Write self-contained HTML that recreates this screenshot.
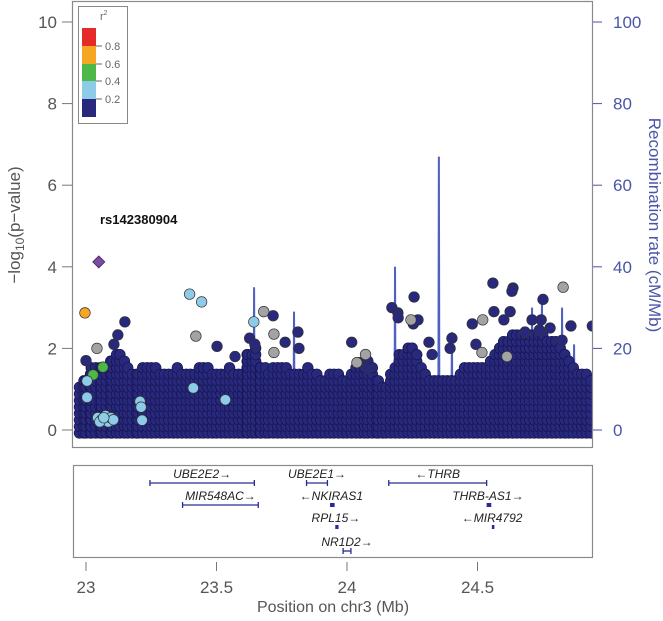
<!DOCTYPE html>
<html><head><meta charset="utf-8">
<style>
body{margin:0;background:#fff;}
svg{display:block;font-family:"Liberation Sans",Arial,sans-serif;}
</style></head>
<body>
<svg id="chart" width="663" height="621" viewBox="0 0 663 621">
  <defs><clipPath id="pclip"><rect x="73" y="2" width="519" height="445"/></clipPath></defs>
  <rect x="0" y="0" width="663" height="621" fill="#fff"/>
  <g clip-path="url(#pclip)">
    <g id="recomb"></g>
    <g id="mass"></g>
    <g id="points"></g>
  </g>
  <rect x="72.5" y="1.5" width="520" height="446" fill="none" stroke="#8a8a8a" stroke-width="1.2"/>
  <g id="leftaxis"></g>
  <g id="rightaxis"></g>
  <text transform="translate(20,225) rotate(-90)" text-anchor="middle" font-size="17" fill="#555">−log<tspan font-size="12" dy="4">10</tspan><tspan dy="-4">(p−value)</tspan></text>
  <text transform="translate(649,225) rotate(90)" text-anchor="middle" font-size="17" fill="#4a55a8">Recombination rate (cM/Mb)</text>
  <text x="100" y="224" font-size="13" font-weight="bold" fill="#111">rs142380904</text>
  <g>
    <rect x="78.5" y="6.5" width="49" height="117" fill="#fff" stroke="#888"/>
    <text x="100" y="20" font-size="11" fill="#666">r<tspan font-size="7" dy="-5">2</tspan></text>
    <rect x="82" y="28" width="14" height="18" fill="#e52a2a"/>
    <rect x="82" y="46" width="14" height="18" fill="#f5a623"/>
    <rect x="82" y="64" width="14" height="17" fill="#4cb848"/>
    <rect x="82" y="81" width="14" height="18" fill="#8ecbe8"/>
    <rect x="82" y="99" width="14" height="18" fill="#28287c"/>
    <g stroke="#666" stroke-width="1">
      <line x1="96" y1="46" x2="102" y2="46"/><line x1="96" y1="64" x2="102" y2="64"/>
      <line x1="96" y1="81" x2="102" y2="81"/><line x1="96" y1="99" x2="102" y2="99"/>
    </g>
    <g font-size="11" fill="#666">
      <text x="105" y="50">0.8</text>
      <text x="105" y="68">0.6</text>
      <text x="105" y="85">0.4</text>
      <text x="105" y="103">0.2</text>
    </g>
  </g>
  <rect x="73.5" y="465.5" width="519" height="92" fill="none" stroke="#8a8a8a" stroke-width="1.2"/>
  <g id="genes"></g>
  <g id="xaxis"></g>
  <text x="333" y="612" text-anchor="middle" font-size="16" fill="#555">Position on chr3 (Mb)</text>
</svg>
<script>
// ---- data ----
const xTicks = [23, 23.5, 24, 24.5];
const yTicks = [0, 2, 4, 6, 8, 10];
const rTicks = [0, 20, 40, 60, 80, 100];
// dense SNP mass envelope: position (Mb) and top -log10(p)
const massPos = [22.975,23.0,23.02,23.06,23.1,23.13,23.16,23.2,23.25,23.3,23.35,23.4,23.45,23.5,23.55,23.6,23.62,23.65,23.67,23.7,23.75,23.8,23.85,23.9,23.95,24.0,24.05,24.08,24.12,24.15,24.2,24.25,24.3,24.35,24.4,24.45,24.5,24.55,24.6,24.65,24.7,24.75,24.8,24.85,24.9,24.95];
const massTop = [1.2,1.4,1.6,1.6,1.9,2.0,1.6,1.55,1.7,1.5,1.6,1.5,1.7,1.5,1.6,1.55,2.0,2.1,1.7,1.55,1.7,1.5,1.6,1.4,1.5,1.4,1.7,1.9,1.3,1.2,2.0,2.2,1.5,1.3,1.3,1.6,1.6,1.8,2.3,2.5,2.5,2.4,2.3,1.8,1.5,1.4];
// individual SNPs: position (Mb), -log10(p), r2 class
const snpPos = [23.049,22.996,23.397,23.443,23.643,23.042,23.421,23.681,23.72,23.72,23.065,23.027,23.004,23.004,23.411,23.534,23.207,23.211,23.215,23.045,23.06,23.075,23.085,23.095,23.105,23.053,23.068,
 23.149,23.122,23.107,23.0,23.502,23.717,23.812,23.763,23.816,23.627,23.571,23.647,
 24.559,24.636,24.632,24.257,24.751,24.563,24.172,24.195,24.254,24.196,24.272,24.625,24.709,24.744,24.778,24.737,24.858,24.48,24.601,24.682,24.402,24.395,24.018,24.048,24.079,24.326,24.314,24.494,24.824,24.94,
 24.828,24.245,24.517,24.613,24.038,24.071,24.52];
const snpVal = [4.12,2.87,3.33,3.14,2.65,2.0,2.3,2.9,2.35,1.9,1.54,1.35,1.2,0.8,1.03,0.74,0.7,0.56,0.24,0.3,0.25,0.35,0.2,0.3,0.25,0.2,0.3,
 2.65,2.33,2.1,1.7,2.05,2.8,2.4,2.15,2.0,2.25,1.8,2.1,
 3.6,3.48,3.4,3.26,3.2,2.9,3.0,2.87,2.6,2.75,2.7,2.9,2.7,2.7,2.5,2.45,2.55,2.6,2.7,2.4,2.25,2.0,2.15,1.65,1.5,1.85,2.15,2.1,2.2,2.55,
 3.5,2.7,1.9,1.8,1.65,1.85,2.7];
const snpCls = ['lead','orange','lb','lb','lb','gray','gray','gray','gray','gray','green','green','lb','lb','lb','lb','lb','lb','lb','lb','lb','lb','lb','lb','lb','lb','lb',
 'n','n','n','n','n','n','n','n','n','n','n','n',
 'n','n','n','n','n','n','n','n','n','n','n','n','n','n','n','n','n','n','n','n','n','n','n','n','n','n','n','n','n','n',
 'gray','gray','gray','gray','gray','gray','gray'];
// recombination spikes (Mb, cM/Mb)
const recPos = [23.644,23.797,24.184,24.352,24.402,24.709,24.747,24.824,24.870];
const recVal = [35,29,40,67,24,30,33,30,21];
// genes
const geneName = ['UBE2E2','MIR548AC','UBE2E1','NKIRAS1','RPL15','NR1D2','THRB','THRB-AS1','MIR4792'];
const geneStart = [23.245,23.37,23.845,23.935,23.955,23.985,24.16,24.535,24.555];
const geneEnd = [23.645,23.66,23.925,23.945,23.96,24.015,24.535,24.545,24.557];
const geneRow = [0,1,0,1,2,3,0,1,2];
const geneDir = [1,1,1,-1,1,1,-1,1,-1];

// ---- scales ----
const X = mb => 86 + (mb - 23) * 261;
const Y = v => 430 - 40.8 * v;
const R = c => 430 - 4.08 * c;
const NS = 'http://www.w3.org/2000/svg';
function mk(tag, attrs, parent){const e=document.createElementNS(NS,tag);for(const k in attrs)e.setAttribute(k,attrs[k]);parent.appendChild(e);return e;}
const colors = {n:'#28287c',lb:'#8ecbe8',gray:'#a3a3a3',green:'#4cb848',orange:'#f5a623'};

// recombination line
const rg = document.getElementById('recomb');
let d = 'M' + X(22.96) + ' ' + R(1.5);
recPos.forEach((p,i)=>{ d += ' L'+X(p-0.002)+' '+R(1)+' L'+X(p)+' '+R(recVal[i])+' L'+X(p+0.002)+' '+R(1); });
d += ' L' + X(24.95) + ' ' + R(1);
const rl = mk('path',{d:d,fill:'none',stroke:'#4f5fc4','stroke-width':2},rg);



// dense mass
const mg = document.getElementById('mass');
for(let i=0;i<massPos.length-1;i++){
  const x0=X(massPos[i]), x1=X(massPos[i+1]);
  for(let x=x0;x<x1;x+=4.5){
    const t=(x-x0)/(x1-x0);
    const top=massTop[i]+(massTop[i+1]-massTop[i])*t;
    for(let v=0; v<=top; v+=0.16){
      const c=mk('circle',{cx:x,cy:Y(v)+3,r:5.3,fill:'#28287c',stroke:'#161650','stroke-width':0.7},mg);
      
      
    }
  }
}
// individual points
const pg = document.getElementById('points');
snpPos.forEach((p,i)=>{
  const cx=X(p), cy=Y(snpVal[i]);
  if(snpCls[i]==='lead'){
    const e=mk('polygon',{points:`${cx},${cy-6} ${cx+6},${cy} ${cx},${cy+6} ${cx-6},${cy}`,fill:'#7a4ca2',stroke:'#3a2060','stroke-width':0.8},pg);
    
    
  } else {
    const e=mk('circle',{cx:cx,cy:cy,r:5.3,fill:colors[snpCls[i]],stroke:'#333','stroke-width':0.7},pg);
    
    
  }
});

// axes
const la=document.getElementById('leftaxis');
yTicks.forEach(v=>{
  const l=mk('line',{x1:62,x2:72,y1:Y(v),y2:Y(v),stroke:'#777'},la);
  
  
  const t=mk('text',{x:57,y:Y(v)+6,'text-anchor':'end','font-size':17,fill:'#555'},la);
  t.textContent=v;
  
  
});
const ra=document.getElementById('rightaxis');
rTicks.forEach(v=>{
  const l=mk('line',{x1:593,x2:602,y1:R(v),y2:R(v),stroke:'#4a55a8'},ra);
  
  
  const t=mk('text',{x:613,y:R(v)+6,'font-size':17,fill:'#4a55a8'},ra);
  t.textContent=v;
  
  
});
const xa=document.getElementById('xaxis');
xTicks.forEach(v=>{
  const l=mk('line',{x1:X(v),x2:X(v),y1:562,y2:571,stroke:'#777'},xa);
  
  
  const t=mk('text',{x:X(v),y:593,'text-anchor':'middle','font-size':17,fill:'#555'},xa);
  t.textContent=v;
  
  
});

// genes
const gg=document.getElementById('genes');
const rowY=[483,505,527,551];
geneName.forEach((n,i)=>{
  const y=rowY[geneRow[i]], x0=X(geneStart[i]), x1=X(geneEnd[i]);
  const narrow = (x1-x0<6);
  const ln=mk('line',{x1:x0,x2:narrow?x0+(x1-x0)+2:x1,y1:y,y2:y,stroke:'#2a2a96','stroke-width':narrow?4:1.3},gg);
  
  
  if(!narrow){
    [x0,x1].forEach(xx=>{
      const tk=mk('line',{x1:xx,x2:xx,y1:y-3,y2:y+3,stroke:'#2a2a96','stroke-width':1.3},gg);
      
      
    });
  }
  const cx=(x0+x1)/2;
  const t=mk('text',{x:cx,y:y-5,'text-anchor':'middle','font-size':12,'font-style':'italic',fill:'#222'},gg);
  t.textContent = geneDir[i]>0 ? n+'→' : '←'+n;
  
  
});
</script>
</body></html>
